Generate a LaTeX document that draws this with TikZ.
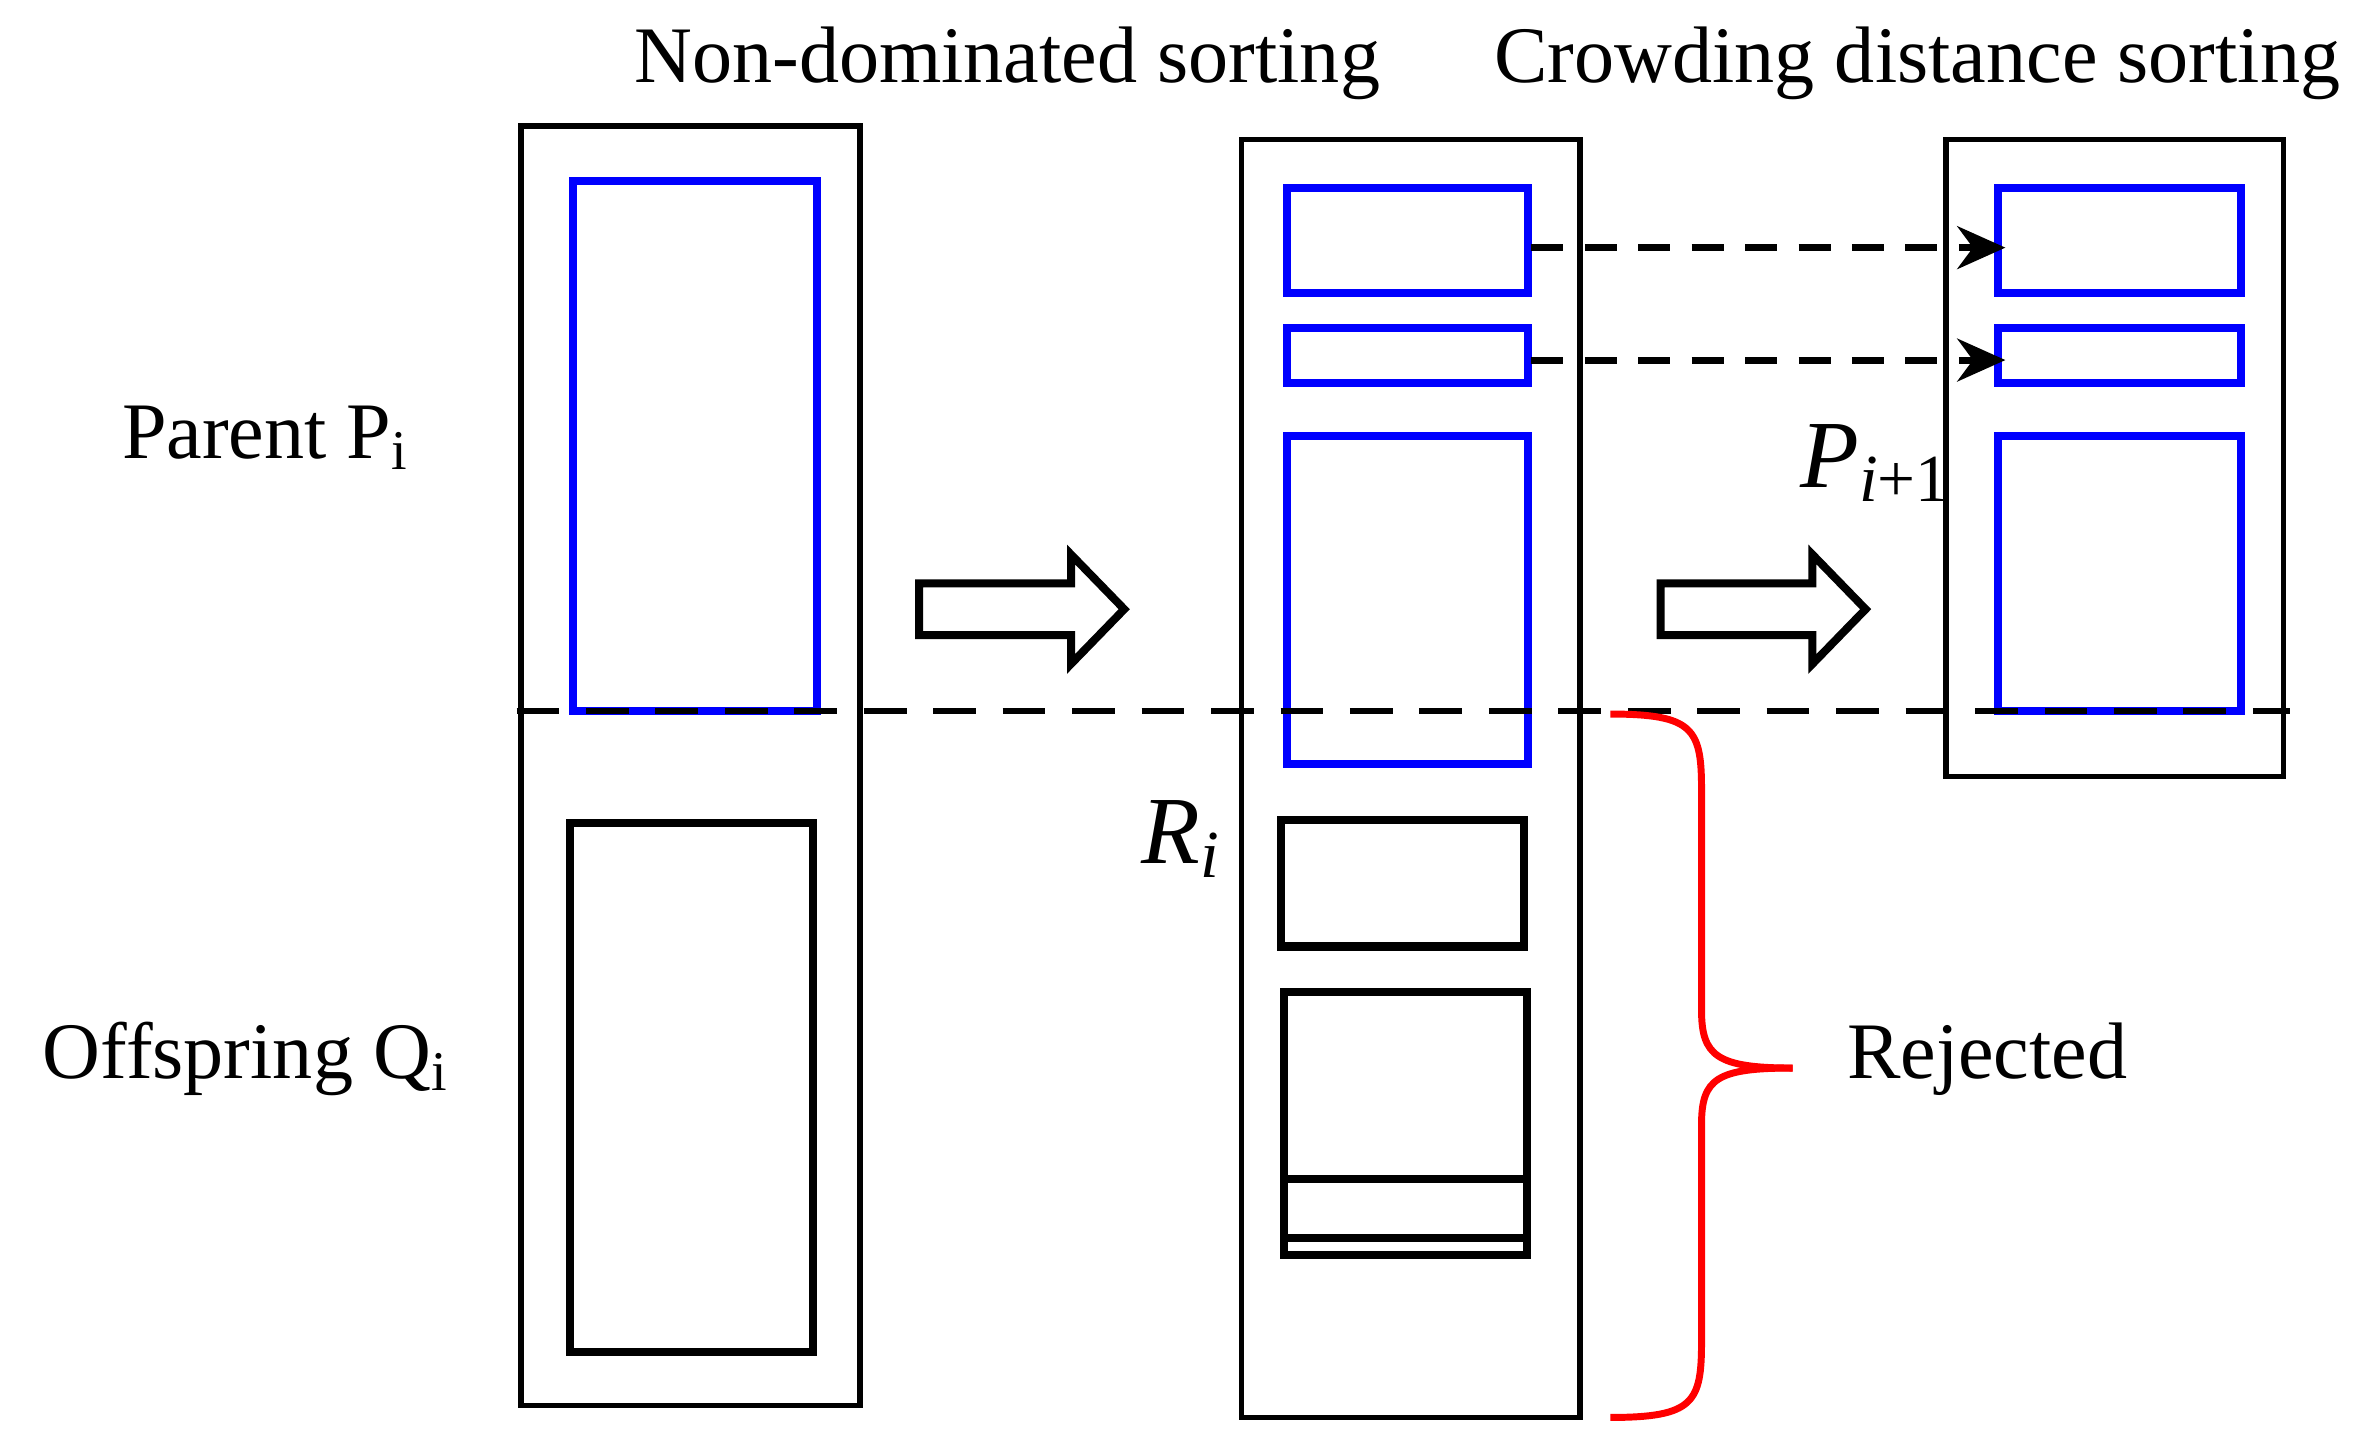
\documentclass[tikz,border=0pt]{standalone}
\usepackage{fontspec}
\setmainfont{Liberation Serif}
\usetikzlibrary{arrows.meta}
\begin{document}
\begin{tikzpicture}[x=0.01cm,y=-0.01cm,
  outer/.style={draw=black,line width=1pt},
  blu/.style={draw=blue,line width=1.5pt},
  blk/.style={draw=black,line width=1.5pt},
  hollow/.style={draw=black,line width=1.5pt,fill=white,line join=miter},
  dar/.style={line width=1.3pt,dash pattern=on 6pt off 4pt,-{Stealth[length=9pt,width=8pt]}},
  lab/.style={font=\fontsize{15}{18}\selectfont,inner sep=0pt},
  mlab/.style={font=\fontsize{18}{21}\selectfont,inner sep=0pt}]
\useasboundingbox (0,0) rectangle (1560,957);
% left
\draw[outer] (343,83) rectangle (566,925);
\draw[blu] (377,119) rectangle (538,468);
\draw[blk] (375,542) rectangle (535,890);
% middle
\draw[outer] (817,92) rectangle (1040,933);
\draw[blu] (847,124) rectangle (1006,193);
\draw[blu] (847,216) rectangle (1006,252);
\draw[blu] (847,287) rectangle (1006,503);
\draw[blk] (843,540) rectangle (1003,623);
\draw[blk] (845,653) rectangle (1005,826);
\draw[blk] (845,776) -- (1005,776);
\draw[blk] (845,815) -- (1005,815);
% right
\draw[outer] (1281,92) rectangle (1503,511);
\draw[blu] (1315,124) rectangle (1475,193);
\draw[blu] (1315,216) rectangle (1475,252);
\draw[blu] (1315,287) rectangle (1475,468);
% dashed line
\draw[black,line width=1.3pt,dash pattern=on 8pt off 5pt] (340,468) -- (1507,468);
% dashed arrows
\coordinate (a1) at (1008,163); \coordinate (b1) at (1320,163);
\coordinate (a2) at (1008,237); \coordinate (b2) at (1320,237);
\draw[dar] (a1) -- (b1);
\draw[dar] (a2) -- (b2);
% hollow arrows
\draw[hollow] (605,384) -- (705,384) -- (705,365) -- (740,401) -- (705,437) -- (705,418) -- (605,418) -- cycle;
\draw[hollow] (1093,384) -- (1193,384) -- (1193,365) -- (1228,401) -- (1193,437) -- (1193,418) -- (1093,418) -- cycle;
% brace
\draw[red,line width=1.3pt] (1060,470) .. controls (1115,470) and (1120,480) .. (1120,520) -- (1120,665) .. controls (1120,695) and (1130,703) .. (1180,703);
\draw[red,line width=1.3pt] (1060,933) .. controls (1115,933) and (1120,923) .. (1120,883) -- (1120,740) .. controls (1120,710) and (1130,703) .. (1180,703);
% texts
\node[lab] (t1) at (663,42) {Non-dominated sorting};
\node[lab] (t2) at (1262,42) {Crowding distance sorting};
\node[lab] (t3) at (175,288) {Parent P\textsubscript{i}};
\node[lab] (t4) at (162,697) {Offspring Q\textsubscript{i}};
\node[mlab] (t5) at (778,552) {\textit{R}\textsubscript{\textit{i}}};
\node[mlab] (t6) at (1235,305) {\textit{P}\textsubscript{\textit{i}+1}};
\node[lab] (t7) at (1308,697) {Rejected};
\end{tikzpicture}
\end{document}
